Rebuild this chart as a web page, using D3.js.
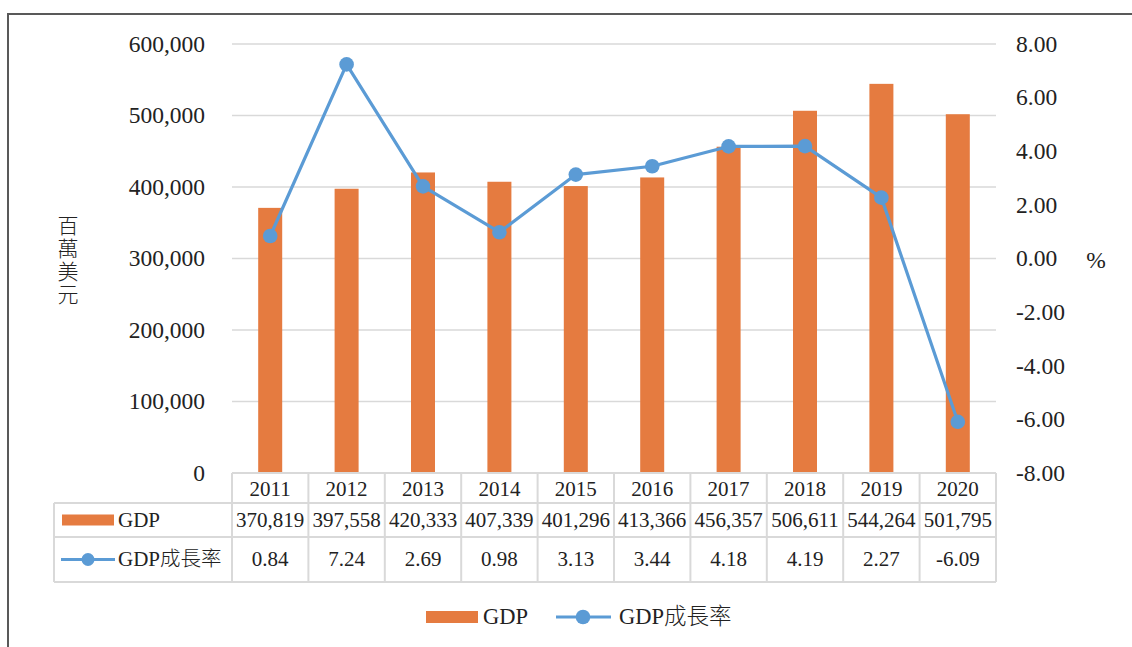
<!DOCTYPE html>
<html><head><meta charset="utf-8">
<script src="https://cdn.jsdelivr.net/npm/d3@7"></script>
<style>body{margin:0;background:#fff}svg{display:block}</style>
</head><body>
<svg id="c" width="1132" height="647"></svg>
<script>
const years = ["2011","2012","2013","2014","2015","2016","2017","2018","2019","2020"];
const gdp = [370819, 397558, 420333, 407339, 401296, 413366, 456357, 506611, 544264, 501795];
const growth = [0.84, 7.24, 2.69, 0.98, 3.13, 3.44, 4.18, 4.19, 2.27, -6.09];
const leftTicks = [0, 100000, 200000, 300000, 400000, 500000, 600000];
const rightTicks = [-8, -6, -4, -2, 0, 2, 4, 6, 8];
const seriesNames = ["GDP", "GDP成長率"];
const yTitle = "百萬美元";
const rTitle = "%";

const barColor = "#e57b40", lineColor = "#5b9bd5", gridColor = "#d9d9d9", textColor = "#222";
const SF = '"Liberation Serif", serif';
const CJ = '"Noto Sans CJK TC", sans-serif';

const svg = d3.select("#c");
const L = 232, R = 996, T = 44, B = 473;
const x = d3.scaleBand().domain(years).range([L, R]).padding(0);
const yL = d3.scaleLinear().domain([0, 600000]).range([B, T]);
const yR = d3.scaleLinear().domain([-8, 8]).range([B, T]);

// frame
svg.append("rect").attr("x", 8).attr("y", 14).attr("width", 1140).attr("height", 660)
  .attr("fill", "none").attr("stroke", "#595959").attr("stroke-width", 2);

// gridlines
svg.append("g").selectAll("line").data(leftTicks.filter(d => d > 0)).join("line")
  .attr("x1", L).attr("x2", R).attr("y1", d => yL(d)).attr("y2", d => yL(d))
  .attr("stroke", gridColor).attr("stroke-width", 1.5);

// left axis labels
const fmt = d3.format(",");
svg.append("g").selectAll("text").data(leftTicks).join("text").style("font-family", SF)
  .attr("x", 205).attr("y", d => yL(d)).attr("dy", "0.33em").attr("text-anchor", "end")
  .attr("font-size", 23.5).attr("fill", textColor).text(d => fmt(d));

// right axis labels
svg.append("g").selectAll("text").data(rightTicks).join("text").style("font-family", SF)
  .attr("x", 1016).attr("y", d => yR(d)).attr("dy", "0.33em").attr("text-anchor", "start")
  .attr("font-size", 23.5).attr("fill", textColor).text(d => d.toFixed(2));

// axis titles
svg.append("text").style("font-family", CJ)
  .attr("x", 68).attr("y", 215)
  .style("writing-mode", "vertical-rl").style("text-orientation", "upright")
  .attr("font-size", 21).attr("font-weight", 300).attr("letter-spacing", 2).attr("fill", textColor).text(yTitle);
svg.append("text").style("font-family", SF).attr("x", 1096).attr("y", 260).attr("dy", "0.33em").attr("text-anchor", "middle")
  .attr("font-size", 23.5).attr("fill", textColor).text(rTitle);

// bars
const bw = 24;
svg.append("g").selectAll("rect").data(gdp).join("rect")
  .attr("x", (d, i) => x(years[i]) + x.bandwidth() / 2 - bw / 2)
  .attr("width", bw)
  .attr("y", d => yL(d)).attr("height", d => B - yL(d))
  .attr("fill", barColor);

// line
const cx = (d, i) => x(years[i]) + x.bandwidth() / 2;
svg.append("path").datum(growth)
  .attr("d", d3.line().x(cx).y(d => yR(d)))
  .attr("fill", "none").attr("stroke", lineColor).attr("stroke-width", 3.2).attr("stroke-linejoin", "round");
svg.append("g").selectAll("circle").data(growth).join("circle")
  .attr("cx", cx).attr("cy", d => yR(d)).attr("r", 7.3).attr("fill", lineColor);

// data table
const rows = [473, 503, 537, 582];
const tLeft = 54;
const tg = svg.append("g").attr("stroke", gridColor).attr("stroke-width", 2);
tg.append("line").attr("x1", L).attr("x2", R).attr("y1", rows[0]).attr("y2", rows[0]);
[rows[1], rows[2], rows[3]].forEach(yv => tg.append("line").attr("x1", tLeft).attr("x2", R).attr("y1", yv).attr("y2", yv));
const vx = years.map(d => x(d)).concat([R]);
tg.selectAll("line.v").data(vx).join("line").attr("class", "v")
  .attr("x1", d => d).attr("x2", d => d).attr("y1", rows[0]).attr("y2", rows[3]);
tg.append("line").attr("x1", tLeft).attr("x2", tLeft).attr("y1", rows[1]).attr("y2", rows[3]);

const cell = (vals, yc, f) => svg.append("g").selectAll("text").data(vals).join("text").style("font-family", SF)
  .attr("x", (d, i) => x(years[i]) + x.bandwidth() / 2).attr("y", yc).attr("dy", "0.33em")
  .attr("text-anchor", "middle").attr("font-size", 21).attr("fill", textColor)
  .text(f);
cell(years, (rows[0] + rows[1]) / 2 + 1, d => d);
cell(gdp, (rows[1] + rows[2]) / 2, d => fmt(d));
cell(growth, (rows[2] + rows[3]) / 2, d => d.toFixed(2));

// table legend keys
const r1 = (rows[1] + rows[2]) / 2, r2 = (rows[2] + rows[3]) / 2;
svg.append("rect").attr("x", 62).attr("y", r1 - 5.5).attr("width", 52).attr("height", 11).attr("fill", barColor);
svg.append("line").attr("x1", 61).attr("x2", 115).attr("y1", r2).attr("y2", r2).attr("stroke", lineColor).attr("stroke-width", 3.2);
svg.append("circle").attr("cx", 88).attr("cy", r2).attr("r", 6.5).attr("fill", lineColor);
const lbl = (txt, xx, yy, fs, cs) => {
  const t = svg.append("text").attr("x", xx).attr("y", yy).attr("dy", "0.33em")
    .attr("font-size", fs).attr("fill", textColor);
  t.append("tspan").style("font-family", SF).text(txt.slice(0, 3));
  if (txt.length > 3) t.append("tspan").style("font-family", CJ).attr("font-size", cs).attr("font-weight", 300).text(txt.slice(3));
};
lbl(seriesNames[0], 118, r1, 21, 20.5);
lbl(seriesNames[1], 118, r2, 21, 20.5);

// bottom legend
const ly = 617;
svg.append("rect").attr("x", 426).attr("y", ly - 6).attr("width", 52).attr("height", 12).attr("fill", barColor);
svg.append("line").attr("x1", 556).attr("x2", 611).attr("y1", ly).attr("y2", ly).attr("stroke", lineColor).attr("stroke-width", 3.2);
svg.append("circle").attr("cx", 583).attr("cy", ly).attr("r", 7.3).attr("fill", lineColor);
lbl(seriesNames[0], 483, ly, 22.5, 22.5);
lbl(seriesNames[1], 619, ly, 22.5, 22.5);
</script>
</body></html>
